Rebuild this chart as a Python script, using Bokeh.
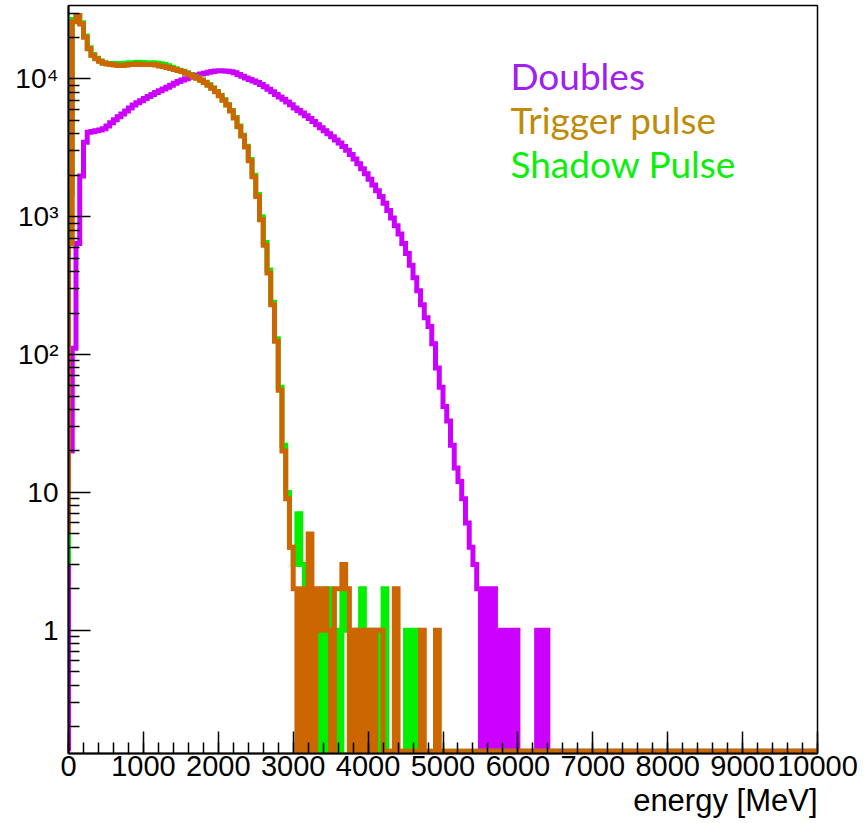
import numpy as np
from bokeh.plotting import figure
from bokeh.models import Range1d, FixedTicker, Label, Title
from bokeh.embed import file_html
from bokeh.resources import INLINE

# ---- histogram binning (MeV) ----
BIN_WIDTH = 50
N_BINS = 200
E_MIN, E_MAX = 0, 10000

# ---- bin contents, one value per 50 MeV bin starting at 0 MeV (empty bins after the list) ----
doubles = [
    20, 111, 640, 1970, 3470, 4100, 4150, 4200, 4250, 4350,
    4550, 4800, 5050, 5300, 5550, 5850, 6150, 6450, 6700, 6950,
    7200, 7450, 7700, 7950, 8200, 8450, 8700, 9000, 9300, 9550,
    9800, 10000, 10250, 10450, 10650, 10850, 11000, 11150, 11300, 11400,
    11450, 11400, 11350, 11250, 11050, 10750, 10450, 10150, 9900, 9650,
    9400, 9100, 8750, 8400, 8050, 7700, 7400, 7100, 6800, 6500,
    6150, 5900, 5650, 5400, 5150, 4900, 4650, 4420, 4200, 4000,
    3800, 3600, 3420, 3230, 3030, 2830, 2620, 2420, 2230, 2050,
    1870, 1700, 1540, 1400, 1250, 1110, 980, 860, 750, 640,
    540, 445, 360, 290, 230, 185, 160, 120, 80, 58,
    42, 33, 22, 15, 12, 9, 6, 4, 3, 2,
    0, 2, 0, 2, 0, 1, 0, 1, 0, 1,
    0, 0, 0, 0, 0, 1, 0, 1,
]

trigger = [
    640, 26000, 28800, 25000, 20000, 16500, 14800, 14000, 13400, 13000,
    12800, 12700, 12600, 12500, 12500, 12600, 12700, 12700, 12800, 12700,
    12700, 12700, 12700, 12600, 12400, 12300, 12100, 11900, 11700, 11500,
    11300, 11000, 10700, 10400, 10100, 9750, 9400, 9000, 8550, 8050,
    7550, 7000, 6450, 5850, 5200, 4500, 3850, 3200, 2550, 1950,
    1400, 950, 620, 390, 230, 125, 55, 20, 9, 4,
    2, 0, 2, 0, 5, 0, 2, 1, 2, 1,
    0, 2, 2, 3, 2, 0, 1, 0, 1, 0,
    1, 0, 1, 1, 0, 0, 0, 2, 0, 0,
    0, 0, 0, 0, 1, 0, 0, 0, 1,
]

shadow = [
    1500, 27000, 28500, 25500, 20500, 16800, 15000, 14100, 13500, 13100,
    12900, 12900, 12900, 12900, 12950, 13000, 13100, 13100, 13200, 13150,
    13100, 13100, 13100, 13000, 12850, 12700, 12450, 12150, 11850, 11550,
    11350, 11050, 10750, 10450, 10150, 9800, 9450, 9050, 8600, 8100,
    7600, 7050, 6500, 5900, 5250, 4550, 3900, 3250, 2600, 2000,
    1450, 1000, 650, 410, 240, 130, 58, 22, 10, 4,
    3, 7, 3, 0, 2, 1, 0, 1, 0, 2,
    1, 1, 0, 2, 1, 0, 1, 1, 2, 1,
    0, 1, 1, 0, 2, 0, 0, 0, 0, 0,
    1, 0, 1, 0,
]

# content of the bin just below 0 MeV, where each outline starts
start_counts = {"Doubles": 0, "Trigger pulse": 5, "Shadow Pulse": 3}

# ---- axis ticks ----
x_major = list(range(0, 10001, 1000))
x_minor = list(range(0, 10001, 200))
y_major = [1, 10, 100, 1000, 10000]
y_minor = [m * 10.0 ** k for k in range(-1, 5) for m in range(2, 10)]
y_labels = {1: "1", 10: "10", 100: "10\u00b2", 1000: "10\u00b3", 10000: "10\u2074"}

Y_MIN, Y_MAX = 0.1276, 34050
# empty bins are drawn along the bottom edge of the frame
FLOOR = Y_MIN * 10 ** 0.016

series = [
    ("Doubles", doubles, "#cc00ff", "#a020f0"),
    ("Shadow Pulse", shadow, "#00f000", "#0af00a"),
    ("Trigger pulse", trigger, "#cc6600", "#bf8c0a"),
]


def outline(counts, first):
    c = np.zeros(N_BINS)
    c[:len(counts)] = counts
    edges = E_MIN + BIN_WIDTH * np.arange(N_BINS + 1)
    xs = [edges[0]]
    ys = [first]
    for i in range(N_BINS):
        xs += [edges[i], edges[i + 1]]
        ys += [c[i], c[i]]
    ys = np.array(ys, dtype=float)
    ys[ys <= 0] = FLOOR
    return np.array(xs, dtype=float), ys


p = figure(
    frame_width=749, frame_height=748,
    x_range=Range1d(E_MIN, E_MAX), y_range=Range1d(Y_MIN, Y_MAX),
    y_axis_type="log",
    output_backend="svg", toolbar_location=None, title=None,
    min_border_left=68, min_border_right=49, min_border_top=5, min_border_bottom=70,
    background_fill_color="white", border_fill_color="white",
)
p.grid.visible = False
p.outline_line_color = "black"
p.outline_line_width = 1.5

for name, counts, color, _ in series:
    xs, ys = outline(counts, start_counts[name])
    p.line(xs, ys, line_width=5, line_color=color, line_join="miter")

# axes: ROOT-style ticks pointing into the frame
for ax in (p.xaxis[0], p.yaxis[0]):
    ax.axis_line_width = 2
    ax.axis_line_color = "black"
    ax.major_tick_in = 22
    ax.major_tick_out = 0
    ax.minor_tick_in = 11
    ax.minor_tick_out = 0
    ax.major_tick_line_width = 1.5
    ax.minor_tick_line_width = 1.5
    ax.major_tick_line_color = "black"
    ax.minor_tick_line_color = "black"
    ax.major_label_text_font = "Liberation Sans"
    ax.major_label_text_color = "black"

p.xaxis.ticker = FixedTicker(ticks=x_major, minor_ticks=x_minor)
p.xaxis.major_label_text_font_size = "29px"
p.xaxis.major_label_standoff = 2

p.yaxis.ticker = FixedTicker(ticks=y_major, minor_ticks=y_minor)
p.yaxis.major_label_overrides = y_labels
p.yaxis.major_label_text_font_size = "28px"
p.yaxis.major_label_standoff = 10

p.add_layout(Title(text="energy [MeV]", align="right", text_font="Liberation Sans",
                   text_font_size="31px", text_font_style="normal",
                   text_color="black", standoff=4), "below")

# legend texts
legend_y = {"Doubles": 10540, "Trigger pulse": 5100, "Shadow Pulse": 2450}
for name, _, _, text_color in series:
    p.add_layout(Label(x=5900, y=legend_y[name], text=name, text_font="Lato",
                       text_font_size="37px", text_color=text_color,
                       text_baseline="alphabetic"))

open("out.html", "w").write(file_html(p, INLINE))
